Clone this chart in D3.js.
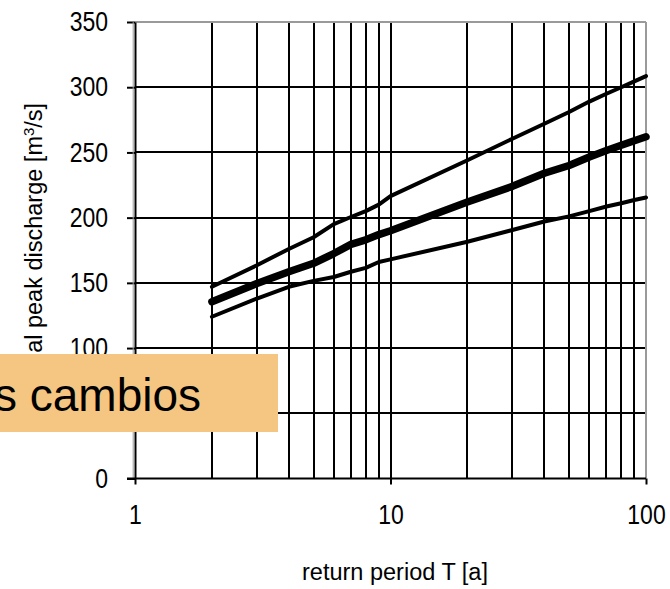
<!DOCTYPE html>
<html>
<head>
<meta charset="utf-8">
<script src="https://cdn.jsdelivr.net/npm/d3@7"></script>
<style>
  html, body { margin: 0; padding: 0; background: #fff; }
  svg { display: block; font-family: "Liberation Sans", Arial, sans-serif; }
</style>
</head>
<body>
<svg id="chart" width="670" height="589"></svg>
<script>
// ---- data ----
const returnPeriods = [2, 3, 4, 5, 6, 7, 8, 9, 10, 20, 30, 40, 50, 60, 70, 80, 90, 100];
const upperBound   = [147, 163.5, 176, 185, 195, 200.5, 205, 210, 216.5, 244, 260.5, 272, 281, 289, 295, 300, 304.5, 308.5];
const estimate     = [135.5, 149.5, 158.5, 165, 172.5, 179.5, 183, 187, 190, 212, 224, 234, 240, 246.5, 251.5, 255.5, 259, 262];
const lowerBound   = [124, 138, 147, 151.5, 154.5, 158.5, 161.5, 166, 168, 181.5, 190.5, 197, 201, 205, 208.5, 211, 213.5, 215.5];
const yTicks = [0, 50, 100, 150, 200, 250, 300, 350];
const xTicks = [1, 10, 100];
const xGrid = [2, 3, 4, 5, 6, 7, 8, 9, 10, 20, 30, 40, 50, 60, 70, 80, 90];
const xTitle = "return period T [a]";
const yTitleMain = "annual peak discharge [m";
const yTitleSup = "3";
const yTitleEnd = "/s]";
const overlayText = "s cambios";

// ---- layout ----
const svg = d3.select("#chart");
const x = d3.scaleLog().domain([1, 100]).range([135, 646]);
const y = d3.scaleLinear().domain([0, 350]).range([478.5, 22]);

// horizontal gridlines
svg.append("g").selectAll("line")
  .data(yTicks.filter(d => d > 0 && d < 350))
  .join("line")
  .attr("x1", x(1)).attr("x2", x(100))
  .attr("y1", d => Math.round(y(d))).attr("y2", d => Math.round(y(d)))
  .attr("stroke", "#000").attr("stroke-width", 2);

// vertical gridlines
svg.append("g").selectAll("line")
  .data(xGrid)
  .join("line")
  .attr("x1", d => Math.round(x(d))).attr("x2", d => Math.round(x(d)))
  .attr("y1", y(0)).attr("y2", y(350))
  .attr("stroke", "#000").attr("stroke-width", 2);

// gray top / right border
svg.append("line").attr("x1", x(1)).attr("x2", x(100)).attr("y1", y(350)).attr("y2", y(350))
  .attr("stroke", "#9a9a9a").attr("stroke-width", 2);
svg.append("line").attr("x1", x(100)).attr("x2", x(100)).attr("y1", y(350)).attr("y2", y(0))
  .attr("stroke", "#9a9a9a").attr("stroke-width", 2);

// y axis
const yAxis = svg.append("g")
  .attr("transform", `translate(${x(1)},0)`)
  .call(d3.axisLeft(y).tickValues(yTicks).tickSize(8).tickSizeOuter(0).tickPadding(19));
yAxis.select(".domain").attr("stroke", "#000").attr("stroke-width", 2);
yAxis.selectAll(".tick line").attr("stroke", "#000").attr("stroke-width", 2);
yAxis.selectAll(".tick text")
  .attr("font-size", 23).attr("font-family", "Liberation Sans, Arial, sans-serif")
  .attr("fill", "#000")
  .attr("transform", "scale(1,1.17)");
// shadow of y axis
svg.append("line").attr("x1", x(1) - 1.8).attr("x2", x(1) - 1.8).attr("y1", y(350)).attr("y2", y(0))
  .attr("stroke", "#9a9a9a").attr("stroke-width", 1);

// x axis
const xAxis = svg.append("g")
  .attr("transform", `translate(0,${y(0)})`)
  .call(d3.axisBottom(x).tickValues(xTicks).tickFormat(d3.format("d")).tickSize(6).tickSizeOuter(0));
xAxis.select(".domain").attr("stroke", "#000").attr("stroke-width", 2)
  .attr("d", `M${x(1) - 8},0H${x(100)}`);
xAxis.selectAll(".tick line").attr("stroke", "#000").attr("stroke-width", 2);
xAxis.selectAll(".tick text")
  .attr("font-size", 23).attr("font-family", "Liberation Sans, Arial, sans-serif")
  .attr("fill", "#000")
  .attr("y", 0).attr("dy", null)
  .attr("transform", "translate(0,45.5) scale(1,1.17)");

// series
const line = d3.line().x((d, i) => x(returnPeriods[i])).y(d => y(d));
const series = [
  { values: upperBound, width: 4 },
  { values: lowerBound, width: 4 },
  { values: estimate, width: 7.5 }
];
svg.append("g").selectAll("path")
  .data(series)
  .join("path")
  .attr("d", d => line(d.values))
  .attr("fill", "none")
  .attr("stroke", "#000")
  .attr("stroke-width", d => d.width)
  .attr("stroke-linecap", "round")
  .attr("stroke-linejoin", "round");

// axis titles
svg.append("text")
  .attr("x", 395).attr("y", 580)
  .attr("text-anchor", "middle")
  .attr("font-size", 23.5)
  .attr("fill", "#000")
  .text(xTitle);

const yt = svg.append("text")
  .attr("transform", "translate(42,254) rotate(-90)")
  .attr("text-anchor", "middle")
  .attr("font-size", 23.5)
  .attr("fill", "#000");
yt.append("tspan").text(yTitleMain);
yt.append("tspan").attr("baseline-shift", "super").attr("font-size", 15).text(yTitleSup);
yt.append("tspan").text(yTitleEnd);

// overlay box
svg.append("rect")
  .attr("x", -2).attr("y", 354).attr("width", 280).attr("height", 78)
  .attr("fill", "#f4c682");
svg.append("text")
  .attr("x", -6).attr("y", 411)
  .attr("font-size", 46)
  .attr("fill", "#000")
  .text(overlayText);
</script>
</body>
</html>
